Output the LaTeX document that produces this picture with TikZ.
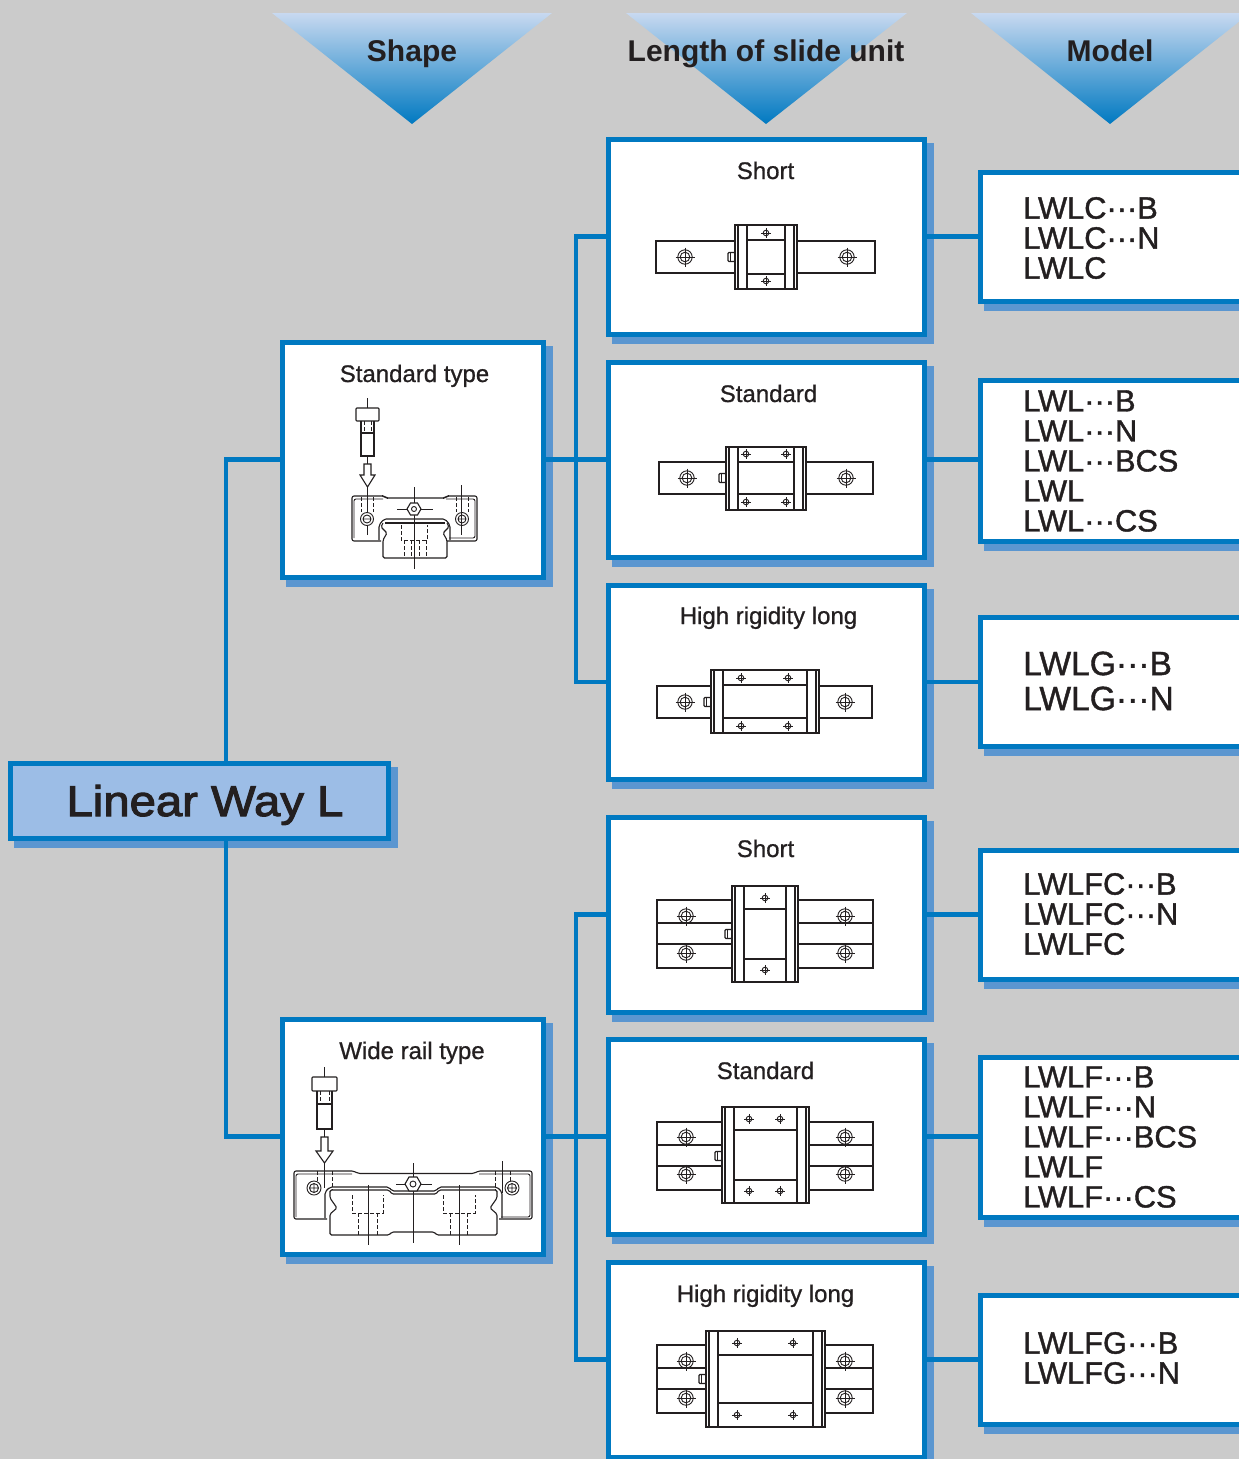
\documentclass[tikz,border=0pt]{standalone}
\usepackage{fontspec}
\setmainfont{Liberation Sans}
\usetikzlibrary{calc}
\definecolor{pagegrey}{HTML}{CBCBCB}
\definecolor{lineblue}{HTML}{0079C1}
\definecolor{shadowblue}{HTML}{5B96D0}
\definecolor{titlefill}{HTML}{9CBDE6}
\definecolor{trilight}{HTML}{C8D9F0}
\definecolor{trimid}{HTML}{76A3DA}
\definecolor{inkc}{HTML}{231F20}
\tikzset{
  conn/.style={draw=lineblue,line width=4.5pt},
  capt/.style={font=\fontsize{24}{24}\selectfont\addfontfeature{FakeBold=.8},text=inkc,inner sep=0pt,anchor=base},
  head/.style={font=\fontsize{30}{30}\selectfont\bfseries,text=inkc,inner sep=0pt,anchor=base},
  modeltxt/.style={font=\fontsize{#1}{#1}\selectfont\addfontfeature{FakeBold=1.2},text=inkc,inner sep=0pt,anchor=west,align=left},
  tri/.style={top color=trilight,middle color=trimid,bottom color=lineblue},
  ink/.style={draw=inkc,line width=1.1pt},
  thin ink/.style={draw=inkc,line width=.9pt},
  axisl/.style={draw=inkc,line width=.8pt},
  dash ink/.style={draw=inkc,line width=.9pt,dash pattern=on 4pt off 2pt},
}
\newcommand{\lbox}[6]{% name x1 y1 x2 y2 fill
  \fill[shadowblue] (#2+4,#3+4) rectangle (#4+9.5,#5+9.5);
  \node[draw=lineblue,line width=5pt,fill=#6,inner sep=0pt,outer sep=0pt,minimum width=#4pt-#2pt,minimum height=#5pt-#3pt,anchor=north west] (#1) at (#2,#3) {};
}
\newcommand{\rhole}[2]{%
  \draw[thin ink] (#1,#2) circle (7.2) (#1,#2) circle (4.8);
  \draw[axisl] (#1-9.5,#2)--(#1+9.5,#2) (#1,#2-9.5)--(#1,#2+9.5);}
\newcommand{\shole}[2]{%
  \draw[thin ink] (#1,#2) circle (2.8);
  \draw[axisl] (#1-5,#2)--(#1+5,#2) (#1,#2-5)--(#1,#2+5);}
\newcommand{\nipp}[2]{%
  \draw[ink,rounded corners=1pt,fill=white] (#1,#2-4.5) rectangle (#1+7,#2+4.5);
  \draw[ink] (#1+2.5,#2-4.5)--(#1+2.5,#2+4.5);}
\newcommand{\blockm}[6]{% L R T B secT secB
  \draw[ink,fill=white] (#1,#3) rectangle (#2,#4);
  \draw[ink] (#1+3,#3)--(#1+3,#4) (#1+12,#3)--(#1+12,#4) (#2-12,#3)--(#2-12,#4) (#2-3,#3)--(#2-3,#4);
  \draw[ink] (#1+12,#5)--(#2-12,#5) (#1+12,#6)--(#2-12,#6);}
\begin{document}
\begin{tikzpicture}[x=1pt,y=-1pt]
\useasboundingbox (0,0) rectangle (1239,1459);
\fill[pagegrey] (0,0) rectangle (1239,1459);
\clip (0,0) rectangle (1239,1459);
% header triangles
\shade[tri] (272,13)--(552,13)--(412,124)--cycle;
\shade[tri] (626,13)--(907,13)--(766,124)--cycle;
\shade[tri] (971,13)--(1250,13)--(1110,124)--cycle;
\node[head] (hShape) at (412,61) {Shape};
\node[head] (hLength) at (766,61) {Length of slide unit};
\node[head] (hModel) at (1110,61) {Model};
% boxes
\lbox{title}{10}{763}{388}{838}{titlefill}
\lbox{typeA}{282}{342}{543}{577}{white}
\lbox{typeB}{282}{1019}{543}{1254}{white}
\lbox{lenA}{608}{139}{924}{334}{white}
\lbox{lenB}{608}{362}{924}{557}{white}
\lbox{lenC}{608}{585}{924}{779}{white}
\lbox{lenD}{608}{817}{924}{1012}{white}
\lbox{lenE}{608}{1039}{924}{1234}{white}
\lbox{lenF}{608}{1262}{924}{1457}{white}
\lbox{modA}{980}{172}{1250}{301}{white}
\lbox{modB}{980}{380}{1250}{541}{white}
\lbox{modC}{980}{617}{1250}{746}{white}
\lbox{modD}{980}{850}{1250}{979}{white}
\lbox{modE}{980}{1057}{1250}{1217}{white}
\lbox{modF}{980}{1295}{1250}{1424}{white}
% connectors
\coordinate (busA) at (576,459.5);
\coordinate (busB) at (576,1136.5);
\draw[conn] (title.north -| 226,0) |- (typeA.west);
\draw[conn] (title.south -| 226,0) |- (typeB.west);
\draw[conn] (typeA.east) -- (lenB.west);
\draw[conn] (typeB.east) -- (lenE.west);
\draw[conn] (busA) |- (lenA.west);
\draw[conn] (busA) |- (lenC.west);
\draw[conn] (busB) |- (lenD.west);
\draw[conn] (busB) |- (lenF.west);
\draw[conn] (lenA.east) -- (modA.west |- lenA.east);
\draw[conn] (lenB.east) -- (modB.west |- lenB.east);
\draw[conn] (lenC.east) -- (modC.west |- lenC.east);
\draw[conn] (lenD.east) -- (modD.west |- lenD.east);
\draw[conn] (lenE.east) -- (modE.west |- lenE.east);
\draw[conn] (lenF.east) -- (modF.west |- lenF.east);
% texts
\node[anchor=base,inner sep=0pt,text=inkc,font=\fontsize{43}{43}\selectfont\addfontfeature{FakeStretch=1.1,FakeBold=2.5}] (titleT) at (205,816) {Linear Way L};
\node[capt] (cA) at (414.5,382) {Standard type};
\node[capt] (cB) at (412,1059) {Wide rail type};
\node[capt] (c1) at (765.5,179) {Short};
\node[capt] (c2) at (768.5,402) {Standard};
\node[capt] (c3) at (768.5,624) {High rigidity long};
\node[capt] (c4) at (765.5,857) {Short};
\node[capt] (c5) at (765.5,1079) {Standard};
\node[capt] (c6) at (765.5,1302) {High rigidity long};
\node[modeltxt=30.8] (m1) at (1023,238) {LWLC···B\\[-.8pt]LWLC···N\\[-.8pt]LWLC};
\node[modeltxt=30.8] (m2) at (1023,461) {LWL···B\\[-.8pt]LWL···N\\[-.8pt]LWL···BCS\\[-.8pt]LWL\\[-.8pt]LWL···CS};
\node[modeltxt=33.6] (m3) at (1023,681) {LWLG···B\\[1.4pt]LWLG···N};
\node[modeltxt=30.8] (m4) at (1023,914) {LWLFC···B\\[-.8pt]LWLFC···N\\[-.8pt]LWLFC};
\node[modeltxt=30.8] (m5) at (1023,1137) {LWLF···B\\[-.8pt]LWLF···N\\[-.8pt]LWLF···BCS\\[-.8pt]LWLF\\[-.8pt]LWLF···CS};
\node[modeltxt=30.8] (m6) at (1023,1358) {LWLFG···B\\[-.8pt]LWLFG···N};
% --- slide units, narrow rail
\draw[ink] (656,241) rectangle (875,273);
\rhole{685}{257}\rhole{847}{257}\nipp{728}{257}
\blockm{735}{797}{225}{289}{240}{274}
\shole{766}{233}\shole{766}{281}
\draw[ink] (659,462) rectangle (873,494);
\rhole{687}{478}\rhole{846}{478}\nipp{719}{478}
\blockm{726}{806}{447}{510}{462}{494}
\shole{746}{454}\shole{786}{454}\shole{746}{502}\shole{786}{502}
\draw[ink] (657,686) rectangle (872,718);
\rhole{685}{702}\rhole{845}{702}\nipp{704}{702}
\blockm{711}{819}{670}{733}{685}{718}
\shole{741}{678}\shole{788}{678}\shole{741}{726}\shole{788}{726}
% --- slide units, wide rail
\draw[ink] (657,900) rectangle (873,968) (657,923)--(873,923) (657,944)--(873,944);
\rhole{686}{916}\rhole{845}{916}\rhole{686}{953}\rhole{845}{953}\nipp{725}{934}
\blockm{732}{798}{886}{982}{909}{959}
\shole{765}{898}\shole{765}{970}
\draw[ink] (657,1122) rectangle (873,1190) (657,1145)--(873,1145) (657,1166)--(873,1166);
\rhole{686}{1137}\rhole{845}{1137}\rhole{686}{1174}\rhole{845}{1174}\nipp{715}{1156}
\blockm{722}{809}{1107}{1203}{1130}{1180}
\shole{749}{1119}\shole{780}{1119}\shole{749}{1191}\shole{780}{1191}
\draw[ink] (657,1345) rectangle (873,1413) (657,1368)--(873,1368) (657,1389)--(873,1389);
\rhole{686}{1361}\rhole{845}{1361}\rhole{686}{1398}\rhole{845}{1398}\nipp{699}{1379}
\blockm{706}{825}{1331}{1427}{1355}{1403}
\shole{737}{1343}\shole{793}{1343}\shole{737}{1415}\shole{793}{1415}
% --- standard type section
\draw[axisl] (367.3,398)--(367.3,408) (367.3,456)--(367.3,464) (367.3,487)--(367.3,535);
\draw[ink,rounded corners=.8pt] (356,408) rectangle (379,421);
\draw[ink] (361,421)--(361,433) (374,421)--(374,433) (361,433)--(374,433);
\draw[line width=1.8pt,draw=inkc] (361,433)--(361,456)--(374,456)--(374,433);
\draw[dash ink] (364,421)--(364,433) (371,421)--(371,433);
\draw[ink,fill=white] (364,464)--(371,464)--(371,475)--(375,475)--(367.5,487)--(360,475)--(364,475)--cycle;
\draw[ink,rounded corners=2pt] (381,541)--(352,541)--(352,496)--(384,496)--(386,498)--(445,498)--(447,496)--(477,496)--(477,541)--(447,541);
\draw[thin ink,rounded corners=2pt] (354,538)--(354,499)--(383,499) (446,499)--(475,499)--(475,538)--(449,538);
\draw[ink,rounded corners=2pt] (379,540)--(379,525)--(384,519)--(445,519)--(450,525)--(450,540);
\draw[line width=1.8pt,draw=inkc] (385,523)--(445,523);
\draw[ink,rounded corners=1.5pt] (383,523)--(381,527)--(387,533)--(383,540)--(383,558)--(447,558)--(447,540)--(443,533)--(449,527)--(447,523);
\draw[dash ink] (361,497)--(361,512) (373,497)--(373,512) (456,497)--(456,512) (468,497)--(468,512);
\draw[thin ink,fill=white] (367,519) circle (6.5) (462,519) circle (6.5);
\draw[thin ink] (367,519) circle (4) (462,519) circle (4) (363,519)--(371,519) (458,519)--(466,519);
\draw[axisl] (461.5,485)--(461.5,535);
\draw[axisl] (397,509)--(433,509) (414,487)--(414,569);
\draw[ink,fill=white] (407,509)--(410.5,503)--(417.5,503)--(421,509)--(417.5,515)--(410.5,515)--cycle;
\draw[thin ink] (414,509) circle (2.5);
\draw[dash ink] (401,525)--(401,540)--(427,540)--(427,525) (404,540)--(404,558) (411,540)--(411,558) (419,540)--(419,558) (426,540)--(426,558);
% --- wide rail type section
\draw[axisl] (324.3,1067)--(324.3,1077) (324.3,1129)--(324.3,1137) (324.3,1163)--(324.3,1188);
\draw[ink,rounded corners=.8pt] (312,1077) rectangle (337,1091);
\draw[ink] (317,1091)--(317,1104) (332,1091)--(332,1104) (317,1104)--(332,1104);
\draw[line width=1.8pt,draw=inkc] (317,1104)--(317,1129)--(332,1129)--(332,1104);
\draw[dash ink] (320,1091)--(320,1104) (329,1091)--(329,1104);
\draw[ink,fill=white] (321,1137)--(328,1137)--(328,1151)--(333,1151)--(324.5,1163)--(316,1151)--(321,1151)--cycle;
\draw[ink,rounded corners=2pt] (327,1219)--(294,1219)--(294,1171)--(354,1171)--(358,1173.5)--(474,1173.5)--(478,1171)--(532,1171)--(532,1219)--(499,1219);
\draw[thin ink,rounded corners=2pt] (296,1217)--(296,1174)--(352,1174) (479,1174)--(530,1174)--(530,1217)--(501,1217);
\draw[ink,rounded corners=2pt] (325,1218)--(325,1192)--(330,1187)--(389,1187)--(392,1191)--(436,1191)--(439,1187)--(497,1187)--(502,1192)--(502,1218);
\draw[ink,rounded corners=1.5pt] (330,1190)--(389,1190)--(392,1194)--(436,1194)--(439,1190)--(497,1190)--(497,1198)--(490,1208)--(497,1214)--(497,1235)--(437,1235)--(434,1232)--(392,1232)--(389,1235)--(330,1235)--(330,1214)--(337,1208)--(330,1198)--cycle;
\draw[dash ink] (317,1171)--(317,1190) (332,1171)--(332,1190) (495,1171)--(495,1190) (510,1171)--(510,1190);
\draw[thin ink,fill=white] (314,1188) circle (7) (512,1188) circle (7);
\draw[thin ink] (314,1188) circle (4.5) (512,1188) circle (4.5) (309.5,1188)--(318.5,1188) (507.5,1188)--(516.5,1188) (314,1183.5)--(314,1192.5) (512,1183.5)--(512,1192.5);
\draw[axisl] (502.5,1161)--(502.5,1193) (396,1184)--(432,1184) (413,1163)--(413,1243) (368,1185)--(368,1245) (459,1185)--(459,1245);
\draw[ink,fill=white] (405,1184)--(409,1177)--(417,1177)--(421,1184)--(417,1191)--(409,1191)--cycle;
\draw[thin ink] (413,1184) circle (3);
\draw[dash ink] (352,1195)--(352,1213)--(383,1213)--(383,1195) (358,1213)--(358,1235) (377,1213)--(377,1235) (443,1195)--(443,1213)--(475,1213)--(475,1195) (450,1213)--(450,1235) (467,1213)--(467,1235);
\end{tikzpicture}
\end{document}
